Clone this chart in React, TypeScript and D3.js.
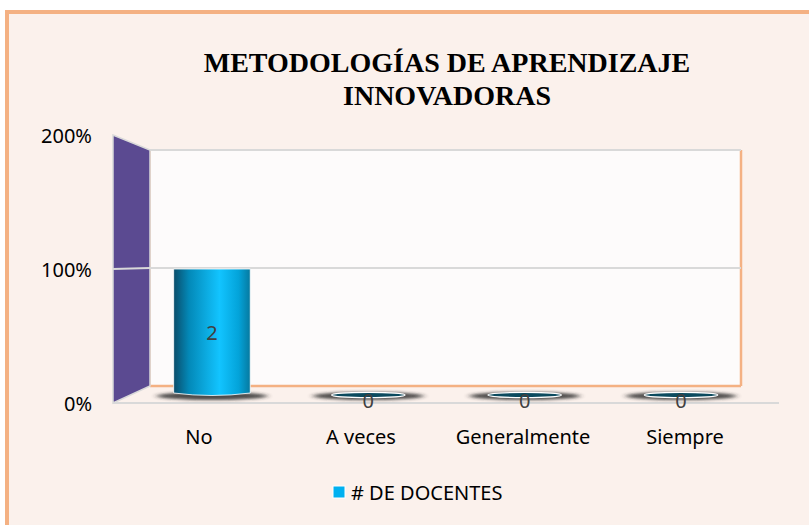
import * as d3 from "d3";

// chart data
const categories = ["No", "A veces", "Generalmente", "Siempre"];
const docentes = [2, 0, 0, 0];
const porcentajes = [1, 0, 0, 0];
const yTicks = [0, 1, 2];
const titleLines = ["METODOLOGÍAS DE APRENDIZAJE", "INNOVADORAS"];
const seriesName = "# DE DOCENTES";

function App() {
  const width = 809;
  const height = 525;

  // 3d box corners
  const frontLeft = 113;
  const frontRight = 779;
  const backLeft = 150;
  const backRight = 741;

  // front plane (axis labels), back wall and the plane the bars stand on
  const yFront = d3.scaleLinear().domain([0, 2]).range([403, 135]);
  const yBack = d3.scaleLinear().domain([0, 2]).range([386, 150]);
  const yBar = d3.scaleLinear().domain([0, 2]).range([395, 143]);

  const xBar = d3
    .scaleBand()
    .domain(categories)
    .range([133, 760])
    .paddingInner(0.51)
    .paddingOuter(0.26);

  const xLabel = d3.scaleBand().domain(categories).range([118, 766]);

  const font = "'Noto Sans', 'Open Sans', sans-serif";

  const wall = `M${frontLeft},${yFront(2)} L${backLeft},${yBack(2)} L${backLeft},${yBack(0)} L${frontLeft},${yFront(0)} Z`;

  return (
    <svg
      width={width}
      height={height}
      style={{ position: "absolute", left: 0, top: 0 }}
    >
      <defs>
        <linearGradient id="cyl" x1="0" x2="1" y1="0" y2="0">
          <stop offset="0" stopColor="#0b4d6a" />
          <stop offset="0.2" stopColor="#0389b8" />
          <stop offset="0.6" stopColor="#12c4ff" />
          <stop offset="0.85" stopColor="#03a3d9" />
          <stop offset="1" stopColor="#06799f" />
        </linearGradient>
        <filter id="blur" x="-50%" y="-200%" width="200%" height="500%">
          <feGaussianBlur stdDeviation="3 1.5" />
        </filter>
      </defs>

      <rect x={0} y={0} width={width} height={height} fill="#ffffff" />
      <rect
        x={7}
        y={12}
        width={width + 20}
        height={height + 20}
        fill="#fbf1ec"
        stroke="#f4b183"
        strokeWidth={4}
      />

      {/* back wall */}
      <rect
        x={backLeft}
        y={yBack(2)}
        width={backRight - backLeft}
        height={yBack(0) - yBack(2)}
        fill="#fdfbfb"
      />
      <line x1={backRight} x2={backRight} y1={yBack(2)} y2={yBack(0)} stroke="#f4b183" strokeWidth={2.5} />
      <line x1={backLeft} x2={backRight} y1={yBack(0)} y2={yBack(0)} stroke="#f4b183" strokeWidth={2.5} />
      <line x1={backLeft} x2={backLeft} y1={yBack(2)} y2={yBack(0)} stroke="#f4b183" strokeWidth={1.5} />

      {/* side wall */}
      <path d={wall} fill="#5b4a91" stroke="#d9d9d9" strokeWidth={1.5} />

      {/* gridlines */}
      {yTicks.slice(1).map((t) => (
        <g key={t}>
          <line x1={backLeft} x2={backRight} y1={yBack(t)} y2={yBack(t)} stroke="#d9d9d9" strokeWidth={2} />
          {t < 2 && (
            <line x1={frontLeft} x2={backLeft} y1={yFront(t)} y2={yBack(t)} stroke="#d9d9d9" strokeWidth={2} />
          )}
        </g>
      ))}

      {/* floor */}
      <line x1={frontLeft} x2={frontRight} y1={yFront(0)} y2={yFront(0)} stroke="#d9d9d9" strokeWidth={2} />

      {/* bars */}
      {categories.map((c, i) => {
        const x0 = xBar(c) as number;
        const bw = xBar.bandwidth();
        const cx = x0 + bw / 2;
        const top = yBar(porcentajes[i]);
        const base = yBar(0);
        return (
          <g key={c}>
            <ellipse cx={cx} cy={base + 1} rx={bw * 0.72} ry={4} fill="#222" opacity={0.8} filter="url(#blur)" />
            {porcentajes[i] > 0 ? (
              <path
                d={`M${x0},${top} L${x0 + bw},${top} L${x0 + bw},${base - 2} Q${cx},${base + 3} ${x0},${base - 2} Z`}
                fill="url(#cyl)"
                stroke="#ffffff"
                strokeWidth={0.8}
              />
            ) : (
              <ellipse cx={cx} cy={base} rx={bw * 0.48} ry={2.6} fill="#0b4a5e" stroke="#ffffff" strokeWidth={1.2} />
            )}
            <text
              x={cx}
              y={porcentajes[i] > 0 ? (top + base) / 2 : base + 5}
              textAnchor="middle"
              dominantBaseline="central"
              fontFamily={font}
              fontSize={20}
              fill="#404040"
            >
              {docentes[i]}
            </text>
          </g>
        );
      })}

      {/* y axis labels */}
      {yTicks.map((t) => (
        <text
          key={t}
          x={92}
          y={yFront(t)}
          textAnchor="end"
          dominantBaseline="central"
          fontFamily={font}
          fontSize={20}
          fill="#000"
        >
          {d3.format(".0%")(t)}
        </text>
      ))}

      {/* category labels */}
      {categories.map((c) => (
        <text
          key={c}
          x={(xLabel(c) as number) + xLabel.bandwidth() / 2}
          y={436}
          textAnchor="middle"
          dominantBaseline="central"
          fontFamily={font}
          fontSize={20}
          fill="#000"
        >
          {c}
        </text>
      ))}

      {/* title */}
      {titleLines.map((l, i) => (
        <text
          key={l}
          x={447}
          y={62 + i * 33}
          textAnchor="middle"
          dominantBaseline="central"
          fontFamily="'Liberation Serif', 'Times New Roman', serif"
          fontWeight="bold"
          fontSize={28}
          fill="#000"
        >
          {l}
        </text>
      ))}

      {/* legend */}
      <rect x={333} y={486} width={12} height={12} fill="#00b0f0" stroke="#fff" strokeWidth={1} />
      <text x={351} y={492} dominantBaseline="central" fontFamily={font} fontSize={20} fill="#000">
        {seriesName}
      </text>
    </svg>
  );
}

export default App;
